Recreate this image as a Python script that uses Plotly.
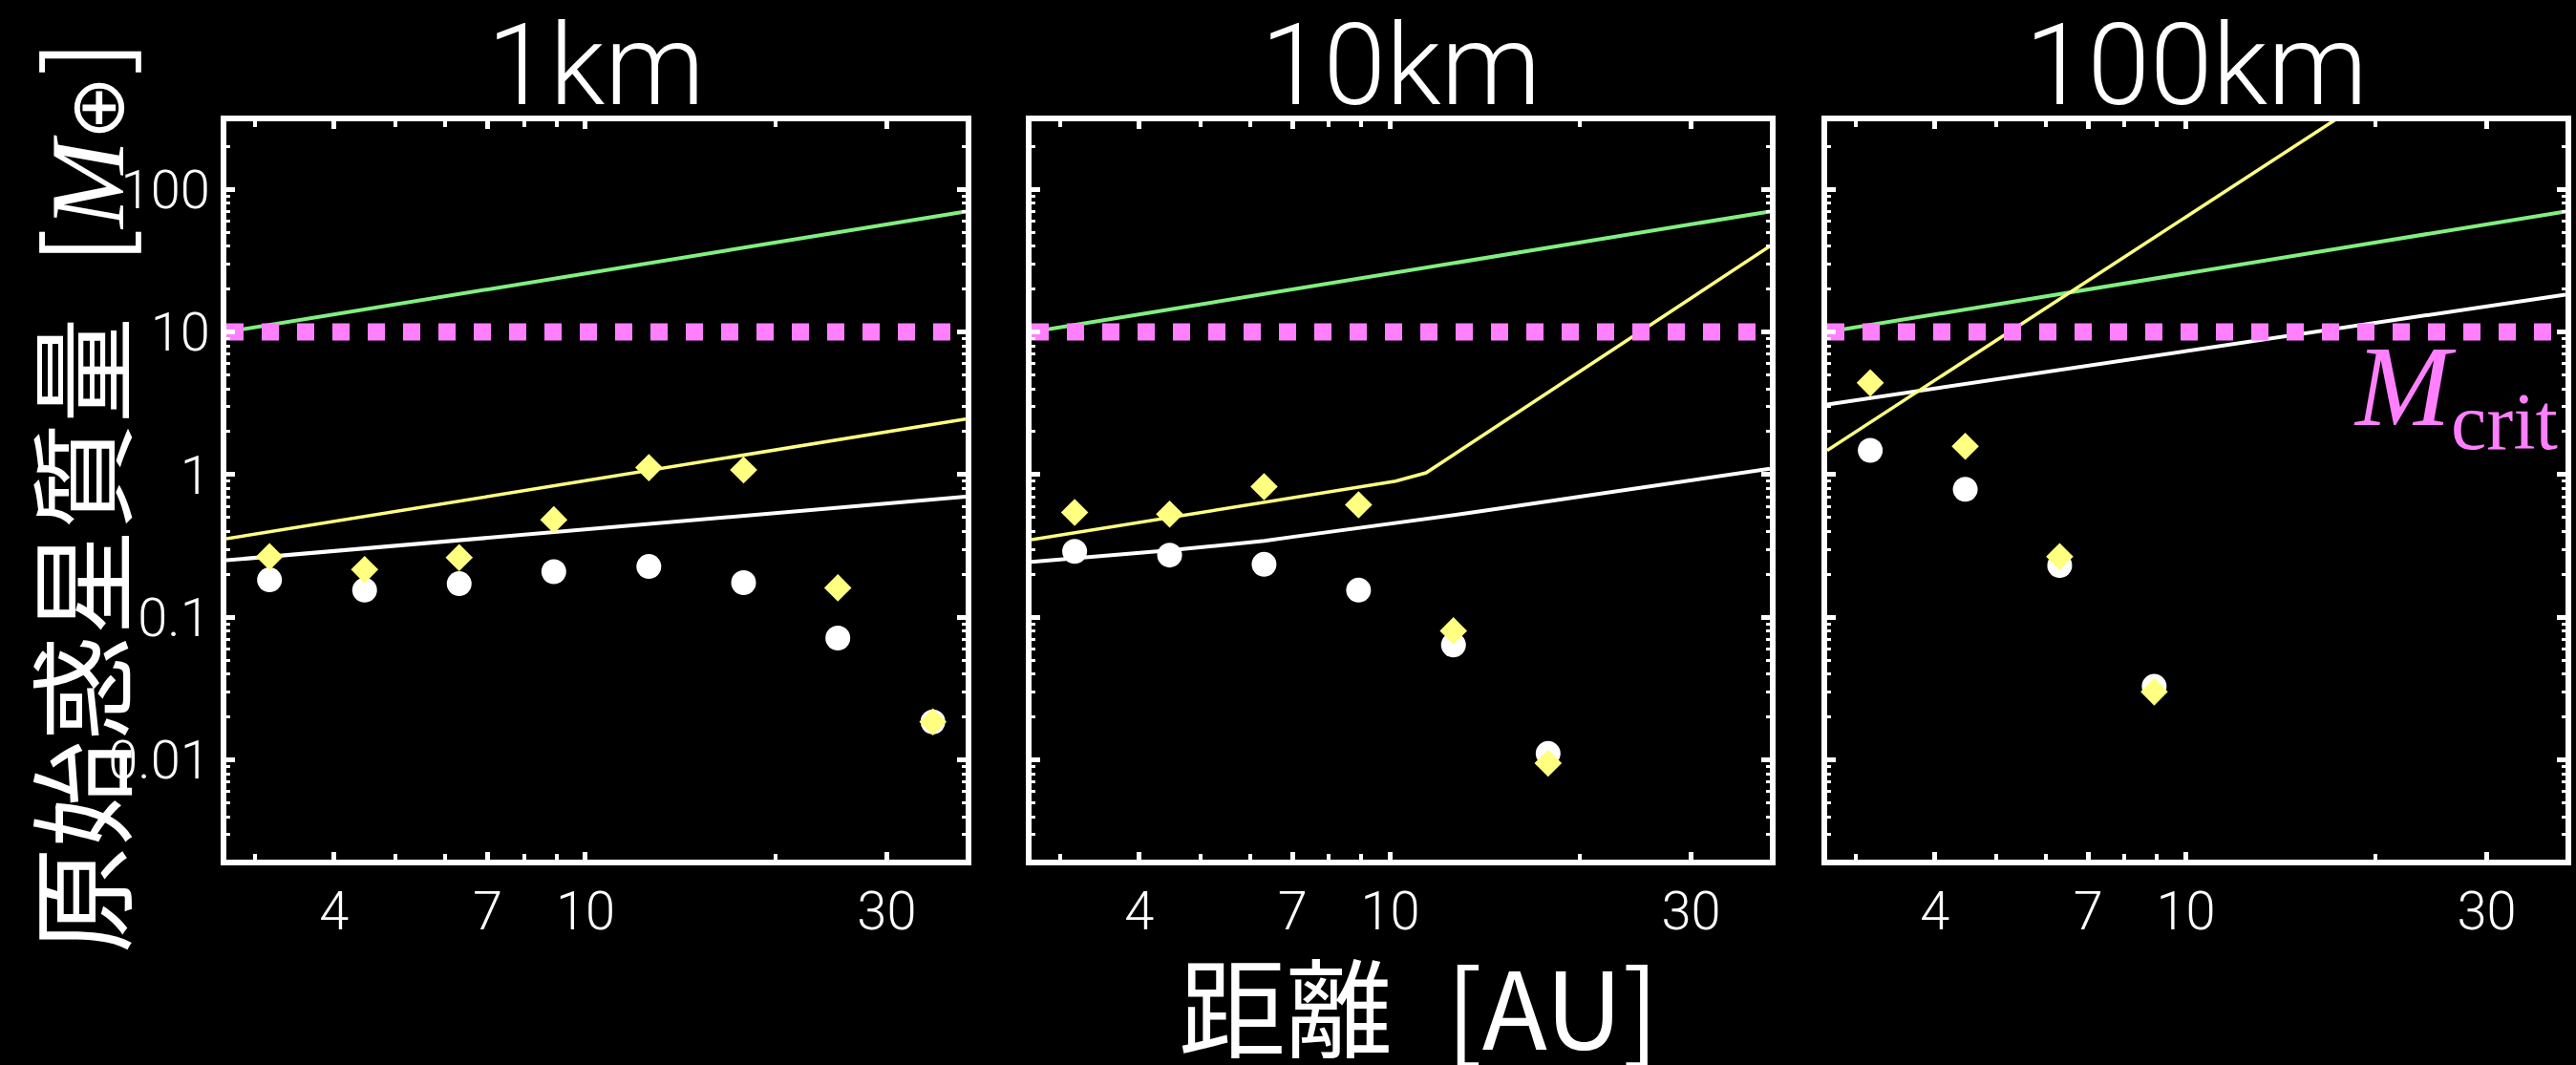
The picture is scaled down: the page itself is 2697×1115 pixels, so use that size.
import math
import plotly.graph_objects as go

W, H = 2697, 1115

panel_titles = ["1km", "10km", "100km"]

# orbital distance of the sampled points [AU]
dist_au = [3.16, 4.47, 6.31, 8.91, 12.6, 17.8, 25.1, 35.5]

# isolation-mass line (green), same in every panel
iso_line_x = [2.7, 40]
iso_line_y = [10.0, 70.0]

# critical core mass
m_crit = 10.0
m_crit_x = [2.7, 40]

# ---- 1 km ----
p1_white_pts = [0.183, 0.155, 0.172, 0.209, 0.227, 0.175, 0.0716, 0.0185]
p1_yellow_pts = [0.266, 0.216, 0.262, 0.483, 1.12, 1.08, 0.161, 0.0185]
p1_white_line_x = [2.7, 40]
p1_white_line_y = [0.251, 0.70]
p1_yellow_line_x = [2.7, 40]
p1_yellow_line_y = [0.355, 2.45]

# ---- 10 km ----
p2_white_pts = [0.29, 0.273, 0.235, 0.155, 0.064, 0.0111]
p2_yellow_pts = [0.543, 0.529, 0.824, 0.615, 0.0804, 0.0095]
p2_white_line_x = [2.7, 4.45, 6.32, 7.0, 13.5, 40]
p2_white_line_y = [0.245, 0.294, 0.343, 0.366, 0.543, 1.10]
p2_yellow_line_x = [2.7, 10.2, 11.4, 40]
p2_yellow_line_y = [0.35, 0.90, 1.03, 40.0]

# ---- 100 km ----
p3_white_pts = [1.48, 0.79, 0.231, 0.0328]
p3_yellow_pts = [4.4, 1.58, 0.266, 0.030]
p3_white_line_x = [2.7, 40]
p3_white_line_y = [3.1, 18.3]
p3_yellow_line_x = [2.7, 20]
p3_yellow_line_y = [1.48, 470.0]

x_tickvals = [4, 7, 10, 30]
x_ticktext = ["4", "7", "10", "30"]
y_tickvals = [0.01, 0.1, 1, 10, 100]
y_ticktext = ["0.01", "0.1", "1", "10", "100"]
x_range = [2.7, 40]
y_range = [0.002, 300]

panels = [
    dict(white=p1_white_pts, yellow=p1_yellow_pts,
         wlx=p1_white_line_x, wly=p1_white_line_y,
         ylx=p1_yellow_line_x, yly=p1_yellow_line_y),
    dict(white=p2_white_pts, yellow=p2_yellow_pts,
         wlx=p2_white_line_x, wly=p2_white_line_y,
         ylx=p2_yellow_line_x, yly=p2_yellow_line_y),
    dict(white=p3_white_pts, yellow=p3_yellow_pts,
         wlx=p3_white_line_x, wly=p3_white_line_y,
         ylx=p3_yellow_line_x, yly=p3_yellow_line_y),
]

GREEN = "#80F080"
YELLOW = "#FFFF80"
MAGENTA = "#FF80FF"
WHITE = "#FFFFFF"

# pixel layout of the three frames (inner plot areas)
px_x = [(237, 1011), (1080, 1853), (1913, 2686)]
px_y = (127, 900)

fig = go.Figure()
for i, p in enumerate(panels):
    sfx = "" if i == 0 else str(i + 1)
    xa, ya = "x" + sfx, "y" + sfx
    n = len(p["white"])
    fig.add_trace(go.Scatter(x=iso_line_x, y=iso_line_y, mode="lines",
                             line=dict(color=GREEN, width=4), xaxis=xa, yaxis=ya))
    fig.add_trace(go.Scatter(x=p["wlx"], y=p["wly"], mode="lines",
                             line=dict(color=WHITE, width=4), xaxis=xa, yaxis=ya))
    fig.add_trace(go.Scatter(x=p["ylx"], y=p["yly"], mode="lines",
                             line=dict(color=YELLOW, width=3.5), xaxis=xa, yaxis=ya))
    fig.add_trace(go.Scatter(x=m_crit_x, y=[m_crit, m_crit], mode="lines",
                             line=dict(color=MAGENTA, width=18, dash="18px,19px"),
                             xaxis=xa, yaxis=ya))
    fig.add_trace(go.Scatter(x=dist_au[:n], y=p["white"], mode="markers",
                             marker=dict(color=WHITE, size=26, symbol="circle",
                                         line=dict(width=0)),
                             xaxis=xa, yaxis=ya))
    fig.add_trace(go.Scatter(x=dist_au[:n], y=p["yellow"], mode="markers",
                             marker=dict(color=YELLOW, size=22, symbol="diamond",
                                         line=dict(width=0)),
                             xaxis=xa, yaxis=ya))

tick_font = dict(family="Roboto", size=56, color=WHITE, weight=300)

ydom = [(H - px_y[1]) / H, (H - px_y[0]) / H]
for i in range(3):
    sfx = "" if i == 0 else str(i + 1)
    xd = [px_x[i][0] / W, px_x[i][1] / W]
    fig.update_layout(**{
        "xaxis" + sfx: dict(
            type="log", domain=xd, anchor="y" + sfx,
            range=[math.log10(x_range[0]), math.log10(x_range[1])],
            tickmode="array", tickvals=x_tickvals, ticktext=x_ticktext,
            ticks="inside", ticklen=8, tickwidth=5, tickcolor=WHITE,
            minor=dict(ticks="inside", ticklen=6, tickwidth=4, tickcolor=WHITE,
                       dtick="D1", showgrid=False),
            showline=True, linewidth=6, linecolor=WHITE, mirror="allticks",
            showgrid=False, zeroline=False, tickfont=tick_font,
        ),
        "yaxis" + sfx: dict(
            type="log", domain=ydom, anchor="x" + sfx,
            range=[math.log10(y_range[0]), math.log10(y_range[1])],
            tickmode="array", tickvals=y_tickvals, ticktext=y_ticktext,
            ticks="inside", ticklen=9, tickwidth=5, tickcolor=WHITE,
            minor=dict(ticks="inside", ticklen=4, tickwidth=3, tickcolor=WHITE,
                       dtick="D1", showgrid=False),
            showline=True, linewidth=6, linecolor=WHITE, mirror="allticks",
            showgrid=False, zeroline=False, tickfont=tick_font,
            showticklabels=(i == 0),
        ),
    })

ann = []
for i, t in enumerate(panel_titles):
    cx = (px_x[i][0] + px_x[i][1]) / 2 / W
    ann.append(dict(text=t, x=cx, y=1 - 69 / H, xref="paper", yref="paper",
                    xanchor="center", yanchor="middle", showarrow=False,
                    font=dict(family="Roboto", size=118, color=WHITE, weight=300)))

ann.append(dict(text="距離\u2002[AU]", x=1485 / W, y=1 - 1050 / H,
                xref="paper", yref="paper", xanchor="center", yanchor="middle",
                showarrow=False,
                font=dict(family="Noto Sans CJK JP", size=112, color=WHITE)))

ann.append(dict(text="原始惑星質量\u2002[<span style=\"font-family:'Liberation Serif'\"><i>M</i></span>"
                     "<span style=\"font-family:'DejaVu Sans'; font-size:80px\">⊕</span>]",
                x=80 / W, y=1 - 1000 / H, xref="paper", yref="paper",
                xanchor="center", yanchor="bottom", textangle=-90, showarrow=False,
                font=dict(family="Noto Sans CJK JP", size=111, color=WHITE)))

ann.append(dict(text="<i>M</i><sub>crit</sub>", x=2680 / W, y=1 - 336 / H,
                xref="paper", yref="paper", xanchor="right", yanchor="top",
                showarrow=False,
                font=dict(family="Liberation Serif", size=120, color=MAGENTA)))

fig.update_layout(
    width=W, height=H, autosize=False,
    margin=dict(l=0, r=0, t=0, b=0),
    paper_bgcolor="black", plot_bgcolor="black",
    showlegend=False, annotations=ann,
)

fig.write_html("out.html")
